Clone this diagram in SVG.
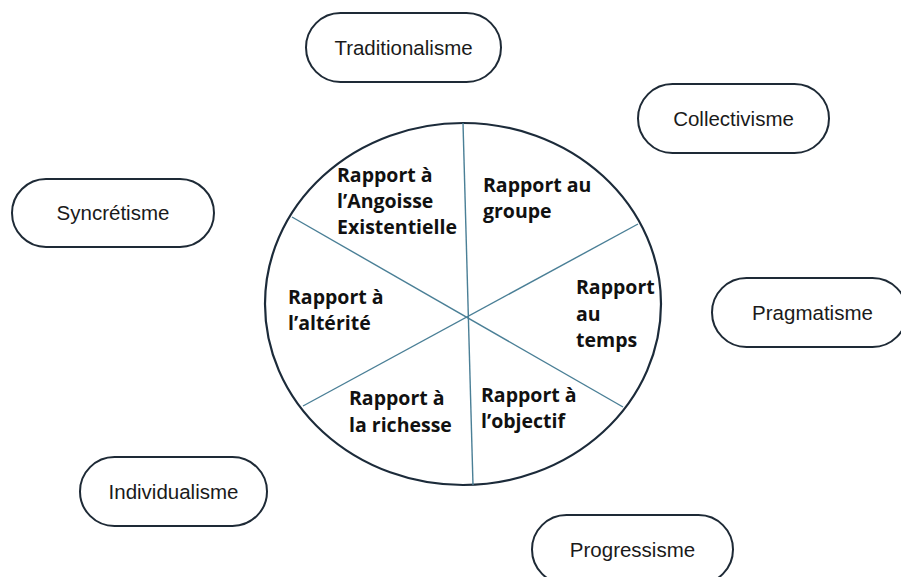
<svg xmlns="http://www.w3.org/2000/svg" width="901" height="577" viewBox="0 0 901 577">
  <style>
    .box { fill: #ffffff; stroke: #1e2a36; stroke-width: 2; }
    .lbl { font-family: "Liberation Sans", Arial, sans-serif; font-size: 20.5px; fill: #1a1a1a; text-anchor: middle; }
    .sec { font-family: "Open Sans", "Liberation Sans", sans-serif; font-size: 19.5px; font-weight: 700; fill: #111111; }
    .div { stroke: #4a7f96; stroke-width: 1.4; fill: none; }
    .wheel { fill: #ffffff; stroke: #1c2b3a; stroke-width: 2.2; }
  </style>
  <rect width="901" height="577" fill="#ffffff"/>

  <g id="wheel">
    <ellipse class="wheel" cx="463" cy="304" rx="198" ry="181"/>
  </g>

  <g id="connectors">
    <line class="div" x1="463" y1="123" x2="473" y2="485"/>
    <line class="div" x1="292" y1="217" x2="623" y2="407"/>
    <line class="div" x1="303" y1="406" x2="638" y2="224"/>
  </g>

  <g id="sector-angoisse">
    <text class="sec" x="337" y="182">Rapport à</text>
    <text class="sec" x="337" y="208">l’Angoisse</text>
    <text class="sec" x="337" y="234">Existentielle</text>
  </g>
  <g id="sector-groupe">
    <text class="sec" x="483" y="192">Rapport au</text>
    <text class="sec" x="483" y="218">groupe</text>
  </g>
  <g id="sector-temps">
    <text class="sec" x="576" y="294">Rapport</text>
    <text class="sec" x="576" y="321">au</text>
    <text class="sec" x="576" y="347">temps</text>
  </g>
  <g id="sector-alterite">
    <text class="sec" x="288" y="304">Rapport à</text>
    <text class="sec" x="288" y="330">l’altérité</text>
  </g>
  <g id="sector-richesse">
    <text class="sec" x="349" y="405">Rapport à</text>
    <text class="sec" x="349" y="432">la richesse</text>
  </g>
  <g id="sector-objectif">
    <text class="sec" x="481" y="402">Rapport à</text>
    <text class="sec" x="481" y="428">l’objectif</text>
  </g>

  <g id="traditionalisme">
    <rect class="box" x="306" y="13" width="195" height="69" rx="34.5"/>
    <text class="lbl" x="403.5" y="54.5">Traditionalisme</text>
  </g>
  <g id="collectivisme">
    <rect class="box" x="638" y="84" width="191" height="69" rx="34.5"/>
    <text class="lbl" x="733.5" y="125.5">Collectivisme</text>
  </g>
  <g id="syncretisme">
    <rect class="box" x="12" y="179" width="202" height="68" rx="34"/>
    <text class="lbl" x="113" y="220">Syncrétisme</text>
  </g>
  <g id="pragmatisme">
    <rect class="box" x="712" y="278" width="195" height="69" rx="34.5"/>
    <text class="lbl" x="812.5" y="319.5">Pragmatisme</text>
  </g>
  <g id="individualisme">
    <rect class="box" x="80" y="457" width="187" height="69" rx="34.5"/>
    <text class="lbl" x="173.5" y="498.5">Individualisme</text>
  </g>
  <g id="progressisme">
    <rect class="box" x="532" y="515" width="201" height="69" rx="34.5"/>
    <text class="lbl" x="632.5" y="556.5">Progressisme</text>
  </g>
</svg>
